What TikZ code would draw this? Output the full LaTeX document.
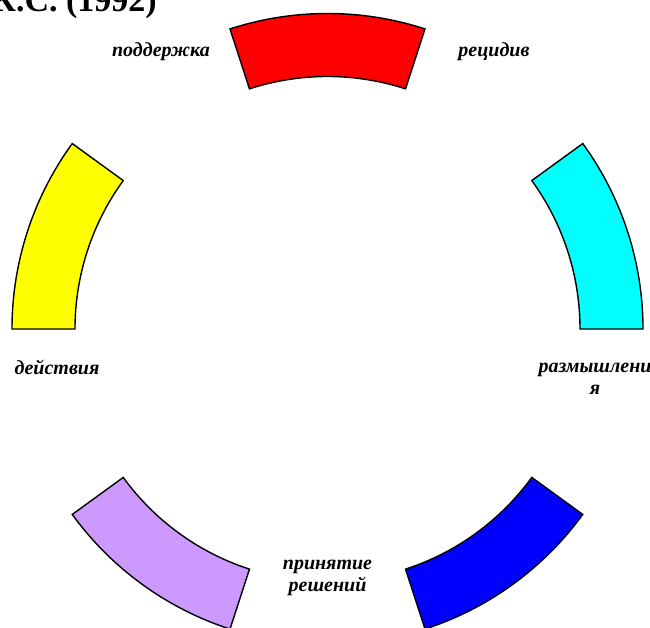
\documentclass[tikz,border=0pt]{standalone}
\usepackage{fontspec}
\setmainfont{Liberation Serif}
\definecolor{segpurple}{RGB}{204,153,255}
\definecolor{segcyan}{RGB}{0,255,255}
\definecolor{segred}{RGB}{255,0,0}
\definecolor{segyellow}{RGB}{255,255,0}
\definecolor{segblue}{RGB}{0,0,255}
\begin{document}
\begin{tikzpicture}[x=1pt,y=1pt,
  seg/.style={draw=black,line width=1.4pt,line join=miter},
  lbl/.style={font=\fontsize{20}{21.5}\selectfont\bfseries\itshape,align=center,inner sep=0pt,anchor=base},
  ttl/.style={font=\fontsize{34}{40}\selectfont\bfseries,inner sep=0pt,anchor=base east}]
\useasboundingbox (0,0) rectangle (650,-628);
\def\Ro{315.5pt}
\def\Ri{252.5pt}
\begin{scope}[shift={(327.5,-329)}]
  \foreach \a/\c in {0/segcyan,72/segred,144/segyellow,216/segpurple,288/segblue}{
    \pgfmathsetmacro{\b}{\a+36}
    \draw[seg,fill=\c] (\a:315.5) arc[start angle=\a,end angle=\b,radius=\Ro]
      -- (\b:252.5) arc[start angle=\b,end angle=\a,radius=\Ri] -- cycle;
  }
\end{scope}
\node[ttl] (title) at (157,-12) {К.С. (1992)};
\node[lbl] (support) at (161,-57) {поддержка};
\node[lbl] (relapse) at (494,-57) {рецидив};
\node[lbl] (action) at (57,-374) {действия};
\node[lbl] (contemp) at (595,-394) {размышлени\\я};
\node[lbl] (decision) at (327.5,-591) {принятие\\решений};
\end{tikzpicture}
\end{document}
